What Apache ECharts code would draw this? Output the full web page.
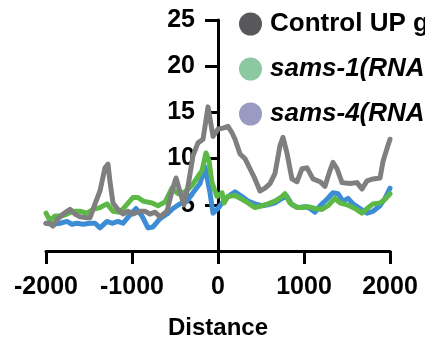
<!DOCTYPE html>
<html>
<head>
<meta charset="utf-8">
<script src="https://cdn.jsdelivr.net/npm/echarts@6/dist/echarts.min.js"></script>
<style>html,body{margin:0;padding:0;background:#fff}#c{width:425px;height:339px}</style>
</head>
<body>
<div id="c"></div>
<script>
const seriesNames = ['Control UP genes', 'sams-1(RNAi) UP genes', 'sams-4(RNAi) UP genes'];
const xTicks = [-2000, -1000, 0, 1000, 2000];
const yTicks = [0, 5, 10, 15, 20, 25];

const controlData = [
[-2000,3.0],[-1954,3.0],[-1919,2.7],[-1872,3.4],[-1802,4.0],[-1721,4.5],[-1663,4.0],[-1605,3.7],
[-1523,3.6],[-1488,3.6],[-1430,5.1],[-1372,6.5],[-1314,9.0],[-1279,9.4],[-1256,7.5],[-1221,5.2],
[-1163,4.5],[-1105,4.0],[-1047,4.3],[-988,4.0],[-907,4.3],[-849,4.3],[-791,4.0],[-733,4.2],
[-674,3.7],[-593,4.3],[-535,6.5],[-488,7.9],[-442,6.4],[-395,5.0],[-349,7.0],[-291,10.3],
[-233,11.7],[-174,12.1],[-116,15.6],[-58,12.4],[0,13.2],[58,13.3],[116,13.5],[163,12.8],
[198,12.1],[256,10.5],[314,10.0],[372,8.9],[430,7.8],[488,6.5],[547,6.8],[605,7.3],
[663,8.4],[721,11.4],[756,12.3],[802,10.6],[860,7.8],[919,7.5],[977,8.9],[1035,9.0],
[1105,7.8],[1186,7.5],[1244,7.0],[1302,8.7],[1337,9.6],[1384,8.9],[1442,7.4],[1535,7.3],
[1616,7.4],[1674,6.7],[1733,7.6],[1802,7.8],[1884,7.9],[1919,9.7],[1965,11.1],[2000,12.1]
];
const sams1Data = [
[-2000,4.1],[-1954,3.3],[-1895,3.8],[-1814,3.8],[-1756,4.0],[-1686,4.3],[-1605,4.3],[-1523,4.1],
[-1453,4.5],[-1372,4.7],[-1291,5.1],[-1221,4.3],[-1140,4.2],[-1081,4.8],[-988,5.8],[-930,5.8],
[-872,5.4],[-767,5.2],[-698,4.9],[-616,5.3],[-535,6.8],[-465,6.2],[-384,6.4],[-302,7.1],
[-244,7.9],[-186,8.7],[-140,10.6],[-105,9.8],[-70,7.4],[-12,5.9],[47,6.3],[70,5.2],
[116,5.9],[198,6.0],[279,5.6],[349,5.2],[430,4.7],[512,4.9],[581,5.1],[663,5.4],
[744,5.9],[779,6.2],[837,5.2],[919,4.7],[977,4.7],[1047,4.8],[1128,4.6],[1209,4.5],
[1279,4.9],[1360,5.7],[1419,5.2],[1500,5.0],[1593,4.6],[1674,4.1],[1733,4.6],[1802,5.1],
[1884,5.2],[1942,5.6],[2000,6.2]
];
const sams4Data = [
[-2000,3.0],[-1930,2.9],[-1837,3.0],[-1756,3.2],[-1698,2.9],[-1640,3.0],[-1570,2.9],[-1488,3.0],
[-1430,3.0],[-1372,2.5],[-1291,3.2],[-1233,3.0],[-1163,3.2],[-1105,3.0],[-1023,3.9],[-953,4.6],
[-884,3.8],[-814,2.5],[-756,2.6],[-674,3.5],[-593,4.0],[-523,4.6],[-442,5.1],[-360,5.4],
[-291,6.3],[-209,7.3],[-151,9.1],[-93,6.3],[-58,4.1],[0,4.6],[47,5.2],[116,5.9],
[198,6.4],[279,5.9],[349,5.4],[430,5.1],[512,4.9],[581,5.0],[663,5.2],[744,5.7],
[802,5.9],[860,5.0],[930,4.7],[1012,4.8],[1070,4.6],[1128,4.2],[1186,4.9],[1267,5.6],
[1337,6.3],[1395,6.2],[1453,5.4],[1512,5.7],[1570,5.1],[1651,4.6],[1733,4.1],[1802,4.3],
[1884,4.9],[1942,5.7],[2000,6.8]
];

const lineColors = ['#7f7f7f', '#5cb946', '#3c8cd6'];
const legendColors = ['#58585b', '#8cc8a1', '#9a9ac3'];
const FONT = '"Liberation Sans", Arial, sans-serif';

const GRID_LEFT = 46, GRID_RIGHT = 35;
const chart = echarts.init(document.getElementById('c'), null, {renderer: 'canvas'});
const plotW = 425 - GRID_LEFT - GRID_RIGHT;
const zeroOffset = -plotW * (0 - xTicks[0]) / (xTicks[xTicks.length - 1] - xTicks[0]);

chart.setOption({
  animation: false,
  backgroundColor: '#fff',
  grid: {left: GRID_LEFT, right: GRID_RIGHT, top: 20, bottom: 88, containLabel: false, outerBoundsMode: 'none'},
  legend: {
    orient: 'vertical', left: 234, top: 6,
    icon: 'circle', itemWidth: 23, itemHeight: 23, itemGap: 19,
    data: seriesNames.map((n, i) => ({name: n, itemStyle: {color: legendColors[i]}})),
    formatter: function (n) {
      if (n.indexOf('sams') === 0) {
        const k = n.indexOf(' UP');
        return '{i|' + n.slice(0, k) + '}{b|' + n.slice(k) + '}';
      }
      return '{b|' + n + '}';
    },
    textStyle: {
      fontFamily: FONT, fontSize: 26, fontWeight: 'bold', color: '#000', lineHeight: 26, padding: [0,0,0,3],
      rich: {
        i: {fontFamily: FONT, fontSize: 26, fontWeight: 'bold', fontStyle: 'italic', color: '#000', lineHeight: 26},
        b: {fontFamily: FONT, fontSize: 26, fontWeight: 'bold', color: '#000', lineHeight: 26}
      }
    }
  },
  xAxis: {
    type: 'value', min: xTicks[0], max: xTicks[xTicks.length - 1], interval: 1000,
    name: 'Distance', nameLocation: 'middle', nameGap: 65,
    nameTextStyle: {fontFamily: FONT, fontSize: 24, fontWeight: 'bold', color: '#000'},
    axisLine: {show: true, onZero: false, lineStyle: {color: '#000', width: 3}},
    axisTick: {show: true, length: 13, lineStyle: {color: '#000', width: 3}},
    axisLabel: {fontFamily: FONT, fontSize: 25, fontWeight: 'bold', color: '#000', margin: 24,
      formatter: v => String(v)},
    splitLine: {show: false}
  },
  yAxis: {
    type: 'value', min: yTicks[0], max: yTicks[yTicks.length - 1], interval: 5,
    position: 'left', offset: zeroOffset,
    axisLine: {show: true, onZero: false, lineStyle: {color: '#000', width: 3}},
    axisTick: {show: true, length: 13, lineStyle: {color: '#000', width: 3}},
    axisLabel: {fontFamily: FONT, fontSize: 25, fontWeight: 'bold', color: '#000', margin: 23,
      formatter: v => (v === 0 ? '' : String(v))},
    splitLine: {show: false}
  },
  series: [
    {name: seriesNames[2], type: 'line', data: sams4Data, showSymbol: false, color: legendColors[2],
     lineStyle: {color: lineColors[2], width: 5, join: 'round', cap: 'round'}},
    {name: seriesNames[1], type: 'line', data: sams1Data, showSymbol: false, color: legendColors[1],
     lineStyle: {color: lineColors[1], width: 5, join: 'round', cap: 'round'}},
    {name: seriesNames[0], type: 'line', data: controlData, showSymbol: false, color: legendColors[0],
     lineStyle: {color: lineColors[0], width: 5, join: 'round', cap: 'round'}}
  ]
});
</script>
</body>
</html>
